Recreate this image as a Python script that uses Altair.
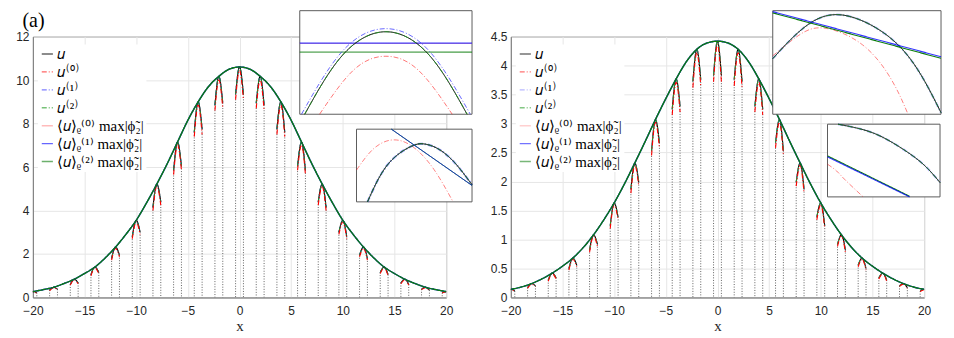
import altair as alt
import pandas as pd

# ---------------- legend / series ----------------
SERIES = ["𝑢", "𝑢⁽⁰⁾", "𝑢⁽¹⁾", "𝑢⁽²⁾",
          "⟨𝑢⟩ᵨ⁽⁰⁾ max|ϕ̃₂|", "⟨𝑢⟩ᵨ⁽¹⁾ max|ϕ̃₂|", "⟨𝑢⟩ᵨ⁽²⁾ max|ϕ̃₂|"]
COLORS_L = ["#000000", "#ff0000", "#2a2aff", "#1e9a1e", "#ff8f8f", "#0000ff", "#0b7d0b"]
COLORS_R = ["#000000", "#ff0000", "#8080ff", "#1e9a1e", "#ffaaaa", "#0000ff", "#0b7d0b"]
DASHES = [[1, 0], [5, 2, 1, 2], [5, 2, 1, 2], [5, 2, 1, 2], [1, 0], [1, 0], [1, 0]]
PANEL_LABEL = "(a)"

# ---------------- main curves (x = 0..20, symmetric) ----------------
x_half = list(range(0, 21))
env_left_half = [10.6, 10.5, 10.17, 9.7, 9.0, 8.15, 7.15, 6.15, 5.22, 4.35, 3.55,
                 2.9, 2.32, 1.82, 1.40, 1.1, 0.84, 0.64, 0.47, 0.36, 0.27]
env_right_half = [4.42, 4.39, 4.28, 4.07, 3.77, 3.43, 3.07, 2.69, 2.32, 1.96, 1.63,
                  1.34, 1.08, 0.86, 0.68, 0.54, 0.42, 0.32, 0.24, 0.18, 0.14]

# arcs centred at even x (half: 0..20), end points at centre +/- half width
arc_centers_half = [0, 2, 4, 6, 8, 10, 12, 14, 16, 18, 20]
arc_halfwidth = 0.38
u_peak_L = [10.6, 10.17, 9.0, 7.15, 5.22, 3.55, 2.32, 1.40, 0.84, 0.47, 0.27]
u_inner_L = [9.35, 8.95, 7.75, 6.05, 4.4, 3.0, 1.95, 1.15, 0.67, 0.38, 0.22]
u_outer_L = [9.35, 8.85, 7.6, 5.85, 4.15, 2.8, 1.8, 1.05, 0.6, 0.34, 0.2]
u0_peak_L = [10.45, 10.0, 8.85, 7.02, 5.12, 3.47, 2.26, 1.36, 0.81, 0.45, 0.26]
u0_inner_L = [9.1, 8.7, 7.5, 5.85, 4.25, 2.9, 1.87, 1.1, 0.63, 0.36, 0.2]
u0_outer_L = [9.1, 8.6, 7.4, 5.65, 4.0, 2.7, 1.72, 1.0, 0.57, 0.32, 0.19]

u_peak_R = [4.42, 4.28, 3.77, 3.07, 2.32, 1.63, 1.08, 0.68, 0.42, 0.24, 0.14]
u_inner_R = [3.83, 3.76, 3.3, 2.67, 1.99, 1.39, 0.92, 0.56, 0.34, 0.2, 0.11]
u_outer_R = [3.83, 3.73, 3.25, 2.53, 1.87, 1.24, 0.82, 0.5, 0.3, 0.17, 0.1]
u0_peak_R = [4.36, 4.22, 3.71, 3.02, 2.28, 1.6, 1.06, 0.66, 0.41, 0.23, 0.135]
u0_inner_R = [3.72, 3.65, 3.2, 2.58, 1.92, 1.34, 0.88, 0.53, 0.32, 0.19, 0.1]
u0_outer_R = [3.72, 3.62, 3.15, 2.45, 1.8, 1.19, 0.78, 0.47, 0.28, 0.16, 0.09]

# ---------------- insets (zoomed views) ----------------
LI1_xdom, LI1_ydom = [-0.04, 0.04], [10.55, 10.70]
LI1_u_x = [-0.0377, -0.02, 0, 0.02, 0.0377]
LI1_u_y = [10.55, 10.636, 10.6695, 10.636, 10.55]
LI1_u1_x = [-0.0392, -0.02, 0, 0.02, 0.0392]
LI1_u1_y = [10.55, 10.642, 10.674, 10.642, 10.55]
LI1_u0_x = [-0.0308, -0.015, 0, 0.015, 0.0308]
LI1_u0_y = [10.55, 10.614, 10.634, 10.614, 10.55]
LI1_m0_y = [10.6525, 10.6525]
LI1_m1_y = [10.653, 10.653]
LI1_m2_y = [10.640, 10.640]

LI2_xdom, LI2_ydom = [5.95, 6.05], [7.10, 7.20]
LI2_u_x = [5.9595, 5.9767, 5.9968, 6.0083, 6.0198, 6.0342, 6.05]
LI2_u_y = [7.10, 7.1507, 7.1760, 7.1797, 7.1737, 7.1553, 7.1235]
LI2_u0_x = [5.95, 5.9652, 5.9825, 5.9997, 6.0170, 6.0336]
LI2_u0_y = [7.1438, 7.1737, 7.1853, 7.1747, 7.1447, 7.10]
LI2_m_x = [5.9802, 6.05]
LI2_m_y = [7.20, 7.1226]

RI1_xdom, RI1_ydom = [1.95, 2.05], [4.20, 4.30]
RI1_u_x = [1.95, 1.9690, 1.9904, 2.0167, 2.0357, 2.05]
RI1_u_y = [4.2537, 4.2842, 4.2960, 4.2777, 4.2442, 4.2015]
RI1_u0_x = [1.95, 1.9652, 1.9805, 2.0033, 2.0205, 2.0304]
RI1_u0_y = [4.2564, 4.2759, 4.2832, 4.2671, 4.2335, 4.20]
RI1_m_x = [1.95, 2.05]
RI1_m1_y = [4.2991, 4.2555]
RI1_m2_y = [4.2979, 4.2540]

RI2_xdom, RI2_ydom = [2.30, 2.40], [3.90, 4.00]
RI2_u_x = [2.3094, 2.3266, 2.3466, 2.3694, 2.3866, 2.40]
RI2_u_y = [4.0, 3.9945, 3.9839, 3.9633, 3.9427, 3.9197]
RI2_u0_x = [2.30, 2.308, 2.3151, 2.3317]
RI2_u0_y = [3.9450, 3.9358, 3.9243, 3.90]
RI2_m_x = [2.30, 2.3729]
RI2_m1_y = [3.9551, 3.90]
RI2_m2_y = [3.9564, 3.9009]

# ---------------- helpers ----------------
LEG = alt.Legend(title=None, orient="none", legendX=5, legendY=8, padding=2,
                 fillColor="white", symbolType="stroke", symbolSize=125,
                 symbolStrokeWidth=1.4, labelFont="Liberation Serif",
                 labelFontSize=15, labelLimit=400, rowPadding=2,
                 labelColor="black", labelOffset=2)


def mirror(xh, yh):
    return [-v for v in xh[::-1]] + xh[1:], yh[::-1] + yh[1:]


def arc_df(peaks, inner, outer, series):
    rows = []
    for c, p, vi, vo in zip(arc_centers_half, peaks, inner, outer):
        for sgn in ([1] if c == 0 else [-1, 1]):
            cx = sgn * c
            lv, rv = (vo, vi) if sgn < 0 else (vi, vo)
            aid = f"{cx}"
            rows.append(dict(x=cx - arc_halfwidth, y=lv, arc=aid, series=series, end=True))
            rows.append(dict(x=cx, y=p, arc=aid, series=series, end=False))
            rows.append(dict(x=cx + arc_halfwidth, y=rv, arc=aid, series=series, end=True))
    return pd.DataFrame(rows)


def enc_color(colors):
    return (alt.Color("series:N", scale=alt.Scale(domain=SERIES, range=colors), legend=LEG),
            alt.StrokeDash("series:N", scale=alt.Scale(domain=SERIES, range=DASHES), legend=LEG))


def inset(xdom, ydom, xrange, yrange, curves, colors):
    sx = alt.Scale(domain=xdom, range=xrange, nice=False, zero=False)
    sy = alt.Scale(domain=ydom, range=yrange, nice=False, zero=False)
    frame = alt.Chart(pd.DataFrame({"x0": [xdom[0]], "x1": [xdom[1]],
                                    "y0": [ydom[0]], "y1": [ydom[1]]})).mark_rect(
        fill="white", stroke="#5c5c5c", strokeWidth=1, clip=False).encode(
        x=alt.X("x0:Q", scale=sx, axis=None), x2="x1:Q",
        y=alt.Y("y0:Q", scale=sy, axis=None), y2="y1:Q")
    col, dash = enc_color(colors)
    layers = [frame]
    for series, xs, ys, w, op in curves:
        df = pd.DataFrame({"x": xs, "y": ys, "series": [series] * len(xs)})
        layers.append(alt.Chart(df).mark_line(
            interpolate="natural" if len(xs) > 2 else "linear",
            strokeWidth=w, opacity=op, clip=False).encode(
            x=alt.X("x:Q", scale=sx, axis=None),
            y=alt.Y("y:Q", scale=sy, axis=None),
            color=col, strokeDash=dash))
    return alt.layer(*layers)


def panel(env_half, u_pk, u_in, u_out, u0_pk, u0_in, u0_out, ymax, yvals, yfmt,
          colors, insets, label=None):
    xs, ys = mirror(x_half, env_half)
    xsc = alt.Scale(domain=[-20, 20], nice=False, zero=False)
    ysc = alt.Scale(domain=[0, ymax], nice=False)
    xax = alt.Axis(values=list(range(-20, 21, 5)), grid=True, ticks=False,
                   labelFlush=False, title="x", titleFont="Liberation Serif",
                   titleFontSize=15, titleFontWeight="normal", titlePadding=2,
                   labelPadding=8)
    if label:
        yax = alt.Axis(values=yvals, format=yfmt, grid=True, ticks=False,
                       labelFlush=False, labelPadding=4, title=label,
                       titleAngle=0, titleAlign="left", titleBaseline="bottom",
                       titleX=-11, titleY=-6, titleFont="Liberation Serif",
                       titleFontSize=20, titleFontWeight="normal", titleColor="black")
    else:
        yax = alt.Axis(values=yvals, format=yfmt, grid=True, ticks=False,
                       labelFlush=False, title=None, labelPadding=4)
    X = alt.X("x:Q", scale=xsc, axis=xax)
    Y = alt.Y("y:Q", scale=ysc, axis=yax)
    col, dash = enc_color(colors)

    # dotted verticals from 0 to each arc end
    u_df = arc_df(u_pk, u_in, u_out, SERIES[0])
    ends = u_df[u_df["end"]]
    dots = alt.Chart(ends).mark_rule(strokeDash=[1, 1.6], color="#3a3a3a",
                                     strokeWidth=0.8, clip=True).encode(
        x=X, y=Y, y2=alt.datum(0))

    arcs = []
    for s, df, w in [(SERIES[0], u_df, 1.1),
                     (SERIES[2], arc_df(u_pk, u_in, u_out, SERIES[2]), 0.9),
                     (SERIES[3], arc_df(u_pk, u_in, u_out, SERIES[3]), 1.0),
                     (SERIES[1], arc_df(u0_pk, u0_in, u0_out, SERIES[1]), 1.1)]:
        arcs.append(alt.Chart(df).mark_line(interpolate="monotone", strokeWidth=w,
                                            clip=True).encode(
            x=X, y=Y, detail="arc:N", color=col, strokeDash=dash))

    envs = []
    for s in [SERIES[5], SERIES[6]]:
        df = pd.DataFrame({"x": xs, "y": ys, "series": [s] * len(xs)})
        envs.append(alt.Chart(df).mark_line(interpolate="monotone", strokeWidth=1.4,
                                            clip=True).encode(
            x=X, y=Y, color=col, strokeDash=dash))

    main = alt.layer(dots, *arcs, *envs)
    return alt.layer(main, *insets).resolve_scale(x="independent", y="independent").properties(
        width=415, height=262)


left_insets = [
    inset(LI1_xdom, LI1_ydom, [268, 441], [78, -26], [
        (SERIES[4], LI1_xdom, LI1_m0_y, 1.0, 0.6),
        (SERIES[5], LI1_xdom, LI1_m1_y, 1.2, 0.75),
        (SERIES[6], LI1_xdom, LI1_m2_y, 1.0, 1.0),
        (SERIES[1], LI1_u0_x, LI1_u0_y, 0.9, 0.6),
        (SERIES[2], LI1_u1_x, LI1_u1_y, 1.0, 0.7),
        (SERIES[0], LI1_u_x, LI1_u_y, 1.0, 1.0),
        (SERIES[3], LI1_u_x, LI1_u_y, 1.0, 0.8),
    ], COLORS_L),
    inset(LI2_xdom, LI2_ydom, [325, 441], [166, 93], [
        (SERIES[1], LI2_u0_x, LI2_u0_y, 0.9, 0.55),
        (SERIES[2], LI2_u_x, LI2_u_y, 2.2, 0.5),
        (SERIES[0], LI2_u_x, LI2_u_y, 1.0, 1.0),
        (SERIES[3], LI2_u_x, LI2_u_y, 1.0, 0.7),
        (SERIES[6], LI2_m_x, LI2_m_y, 1.0, 1.0),
        (SERIES[5], LI2_m_x, LI2_m_y, 1.0, 0.7),
    ], COLORS_L),
]

right_insets = [
    inset(RI1_xdom, RI1_ydom, [263, 432], [78, -26], [
        (SERIES[1], RI1_u0_x, RI1_u0_y, 0.9, 0.55),
        (SERIES[2], RI1_u_x, RI1_u_y, 2.2, 0.6),
        (SERIES[0], RI1_u_x, RI1_u_y, 1.0, 1.0),
        (SERIES[3], RI1_u_x, RI1_u_y, 1.0, 0.7),
        (SERIES[6], RI1_m_x, RI1_m2_y, 1.1, 1.0),
        (SERIES[5], RI1_m_x, RI1_m1_y, 1.1, 0.8),
    ], COLORS_R),
    inset(RI2_xdom, RI2_ydom, [318, 431], [161, 88], [
        (SERIES[1], RI2_u0_x, RI2_u0_y, 0.9, 0.55),
        (SERIES[2], RI2_u_x, RI2_u_y, 2.2, 0.6),
        (SERIES[0], RI2_u_x, RI2_u_y, 1.0, 1.0),
        (SERIES[3], RI2_u_x, RI2_u_y, 1.0, 0.7),
        (SERIES[6], RI2_m_x, RI2_m2_y, 1.1, 1.0),
        (SERIES[5], RI2_m_x, RI2_m1_y, 1.1, 0.8),
    ], COLORS_R),
]

left = panel(env_left_half, u_peak_L, u_inner_L, u_outer_L, u0_peak_L, u0_inner_L,
             u0_outer_L, 12, list(range(0, 13, 2)), "d", COLORS_L, left_insets,
             label=PANEL_LABEL)
right = panel(env_right_half, u_peak_R, u_inner_R, u_outer_R, u0_peak_R, u0_inner_R,
              u0_outer_R, 4.5, [0, 0.5, 1, 1.5, 2, 2.5, 3, 3.5, 4, 4.5], "~g", COLORS_R,
              right_insets)

chart = alt.hconcat(left, right, spacing=65, bounds="flush").resolve_scale(
    color="independent", strokeDash="independent").resolve_legend(
    color="independent", strokeDash="independent").properties(
    padding={"left": 7, "top": 0, "right": 0, "bottom": 0}).configure_view(
    stroke="#7a7a7a", strokeWidth=1).configure_axis(
    domainColor="#7a7a7a", gridColor="#e6e6e6", labelFont="Liberation Sans",
    labelFontSize=12, labelColor="#262626", titleColor="#262626")

chart.save("out.html", embed_options={"renderer": "svg", "actions": False})
